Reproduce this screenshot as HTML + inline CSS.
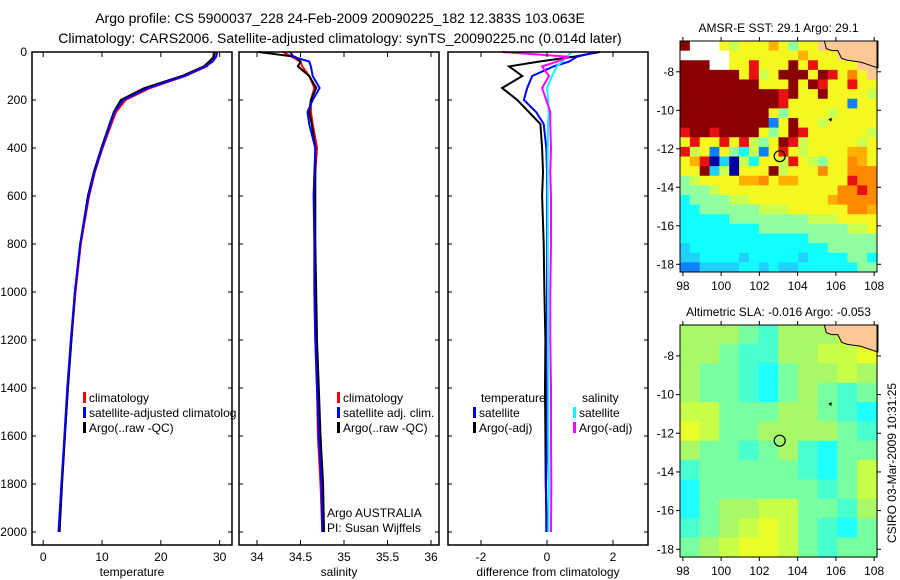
<!DOCTYPE html>
<html><head><meta charset="utf-8"><style>
body{margin:0;background:#fff;}
svg{display:block;font-family:"Liberation Sans",sans-serif;}
text{fill:#000;}
</style></head><body>
<svg id="c" width="900" height="580" viewBox="0 0 900 580">
<text x="340" y="23" font-size="14" text-anchor="middle">Argo profile: CS 5900037_228 24-Feb-2009 20090225_182 12.383S 103.063E</text>
<text x="340" y="43" font-size="14" text-anchor="middle">Climatology: CARS2006. Satellite-adjusted climatology: synTS_20090225.nc (0.014d later)</text>
<g id="g"></g>
</svg>
<script>
// ---- profile data (depth in m) ----
const depths      = [0,20,40,60,100,150,200,250,300,400,500,600,800,1000,1200,1400,1600,1800,2000];
const tempClim    = [29.0,28.9,28.6,27.8,24.2,18.2,14.0,12.4,11.6,10.1,8.8,7.8,6.4,5.5,4.8,4.2,3.7,3.2,2.7];
const tempSat     = [29.6,29.4,28.8,27.6,24.0,17.8,13.6,12.1,11.4,10.0,8.7,7.7,6.3,5.4,4.7,4.1,3.6,3.1,2.6];
const tempArgo    = [29.2,29.0,28.2,27.3,23.6,17.2,13.2,12.0,11.3,9.9,8.6,7.6,6.3,5.4,4.8,4.2,3.7,3.2,2.8];
const salClim     = [34.30,34.40,34.50,34.52,34.60,34.66,34.62,34.62,34.64,34.69,34.67,34.66,34.66,34.66,34.67,34.69,34.70,34.73,34.75];
const salSat      = [34.38,34.42,34.60,34.62,34.64,34.72,34.64,34.58,34.60,34.67,34.66,34.65,34.66,34.66,34.67,34.69,34.71,34.74,34.75];
const salArgo     = [34.02,34.44,34.50,34.47,34.60,34.68,34.62,34.60,34.63,34.67,34.67,34.67,34.67,34.68,34.69,34.71,34.73,34.76,34.77];
const dTempSat    = [1.50,0.90,0.67,0.20,-0.45,-0.60,-0.70,-0.33,-0.10,-0.02,0,0,0,0,0,0,0,-0.03,-0.02];
const dTempArgo   = [1.60,0.80,-0.25,-1.15,-0.75,-1.36,-0.90,-0.55,-0.20,-0.15,-0.12,-0.15,-0.10,-0.08,-0.05,-0.06,-0.05,-0.04,0.0];
const dSalSat     = [0.75,0.60,0.45,0.30,0.15,0.00,0.04,0.05,0.03,0.02,0.02,0.02,0.02,0.03,0.03,0.04,0.04,0.05,0.04];
const dSalArgo    = [-1.35,0.67,0.30,-0.15,0.06,-0.15,-0.02,0.10,0.10,0.12,0.10,0.12,0.12,0.10,0.10,0.12,0.12,0.13,0.12];
const depthTicks  = [0,200,400,600,800,1000,1200,1400,1600,1800,2000];
const tempTicks   = [0,10,20,30];
const salTicks    = [34,34.5,35,35.5,36];
const diffTicks   = [-2,0,2];
// ---- map data ----
const latTicks = [-8,-10,-12,-14,-16,-18];
const lonTicks = [98,100,102,104,106,108];
const argoLon = 103.063, argoLat = -12.383;
const sstGrid = [
"DWWWygyyyoyGyyLLLLLL","WWWWWyyyyyyyoyyyLLLL","DDDWWyyRyyyDyRyyyyLL","DDDDDDyRgyDDDyDRyOyL",
"DDDDDDDDyyyDyDRyyRyy","DDDDDDDDDDRDyyDyyyyg","DDDDDDDDDDRyyyyyyByy","DDDDDDDDDyGyyyygyyyy",
"DDDDDDDDDByDyygyyyyy","RDDRDDDDyGyDRyyyyyyg","yRyyRyRgGyDRgyyyyygy","RgyByGcgByRygyyyyooy",
"yoRNbNgcyygRygGyyOoy","yyDbgNyyyDgyyyOyyOOO","GgyyyyooOyooyyyyyROO","GGGgyyyyyyyyyyyyOORO",
"cGGGGggyyyyyyyyoOOOO","ccGGGGGGgggyyyyyyOOo","cccccGGGGGGGGgggyyyy","ccccccccGGGGGGGGGggy",
"cccccccccccccGGGGGGG","bccccccccccccccGGGGG","bbccccbcccccbccccGGc","BBbbbbccbcbbccccccGG"];
const slaGrid = [
"gggmtgggyy","ggmttggyyY","gmmtcmggyg","gmmtcmgmtm","yymmmggmtc","Yymmggggmt",
"gmmtmgtcmm","tmmmmmtcmy","cmmmmmmtmy","cmggyymmtg","tmgyYymtcm","mgyYYymtmm"];
const sstColors = {D:"#8b0000",W:"#ffffff",R:"#e81010",O:"#ff8a00",o:"#ffb000",Y:"#ffff00",y:"#f4f820",g:"#c8ff50",G:"#90ffa0",c:"#10ffff",b:"#20d0ff",B:"#1080ff",N:"#0000a0",L:"#ffc896"};
const slaColors = {Y:"#e8ff28",y:"#c8ff48",g:"#a8f868",m:"#78ffa0",t:"#48ffd0",c:"#20ffff"};

const NS="http://www.w3.org/2000/svg", G=document.getElementById('g');
function el(tag,attrs,parent){const e=document.createElementNS(NS,tag);for(const k in attrs)e.setAttribute(k,attrs[k]);(parent||G).appendChild(e);return e;}
function txt(x,y,s,size,anchor,parent){const t=el('text',{x:x,y:y,'font-size':size||12,'text-anchor':anchor||'start'},parent);t.textContent=s;return t;}

const Y0=52, YS=0.24; const yD=d=>Y0+d*YS;
const panels=[
 {name:'temperature',x0:32,x1:232,v0:-1.9,v1:32.1,ticks:tempTicks,series:[[tempClim,'#f00'],[tempArgo,'#000'],[tempSat,'#00f']]},
 {name:'salinity',x0:239,x1:439,v0:33.793,v1:36.092,ticks:salTicks,series:[[salClim,'#f00'],[salArgo,'#000'],[salSat,'#00f']]},
 {name:'difference from climatology',x0:448,x1:648,v0:-3.0,v1:3.06,ticks:diffTicks,series:[[dTempArgo,'#000'],[dTempSat,'#00f'],[dSalSat,'#0ff'],[dSalArgo,'#f0f']]}
];
panels.forEach((p,pi)=>{
  const g=el('g',{});
  
  
  const xv=v=>p.x0+(v-p.v0)/(p.v1-p.v0)*(p.x1-p.x0);
  p.series.forEach(([arr,col],si)=>{
    const pts=arr.map((v,i)=>xv(v).toFixed(1)+','+yD(depths[i]).toFixed(1)).join(' ');
    const l=el('polyline',{points:pts,fill:'none',stroke:col,'stroke-width':2},g);
    
    
  });
  el('rect',{x:p.x0,y:52,width:p.x1-p.x0,height:493,fill:'none',stroke:'#000','stroke-width':1.5},g);
  p.ticks.forEach(t=>{const x=xv(t);el('line',{x1:x,y1:545,x2:x,y2:540,stroke:'#000'},g);el('line',{x1:x,y1:52,x2:x,y2:57,stroke:'#000'},g);txt(x,561,String(t),12,'middle',g);});
  depthTicks.forEach(d=>{el('line',{x1:p.x0,y1:yD(d),x2:p.x0+4,y2:yD(d),stroke:'#000'},g);el('line',{x1:p.x1,y1:yD(d),x2:p.x1-4,y2:yD(d),stroke:'#000'},g);if(pi===0)txt(27,yD(d)+4,String(d),12,'end',g);});
  const at=txt((p.x0+p.x1)/2,576,p.name,12,'middle',g);
  
  
});
// legends
function leg(x,y,col,label,name){const g=el('g',{});el('rect',{x:x,y:y-10,width:3,height:11,fill:col},g);txt(x+6,y,label,12,'start',g);}
leg(83,402,'#f00','climatology','legend-climatology');
leg(83,417,'#00f','satellite-adjusted climatolog','legend-satellite-adjusted');
leg(83,432,'#000','Argo(..raw -QC)','legend-argo');
leg(337,402,'#f00','climatology','legend-sal-climatology');
leg(337,417,'#00f','satellite adj. clim.','legend-sal-satellite');
leg(337,432,'#000','Argo(..raw -QC)','legend-sal-argo');
txt(481,402,'temperature',12);txt(582,402,'salinity',12);
leg(473,417,'#00f','satellite','legend-temp-satellite');
leg(473,432,'#000','Argo(-adj)','legend-temp-argo');
leg(573,417,'#0ff','satellite','legend-sal-sat');
leg(573,432,'#f0f','Argo(-adj)','legend-sal-argo-adj');
txt(327,517,'Argo AUSTRALIA',12);txt(327,532,'PI: Susan Wijffels',12);

// maps
function map(o){
  const g=el('g',{});
  
  
  const lonX=l=>o.x0+(l-o.lon0)/(o.lon1-o.lon0)*(o.x1-o.x0);
  const latY=l=>o.y0+(o.lat0-l)/(o.lat0-o.lat1)*(o.y1-o.y0);
  const rows=o.grid.length, cols=o.grid[0].length;
  const cw=(o.x1-o.x0)/cols, ch=(o.y1-o.y0)/rows;
  o.grid.forEach((r,ri)=>{for(let ci=0;ci<cols;ci++){
    const c=el('rect',{x:(o.x0+ci*cw).toFixed(2),y:(o.y0+ri*ch).toFixed(2),width:(cw+0.4).toFixed(2),height:(ch+0.4).toFixed(2),fill:o.colors[r[ci]]},g);
    if(o.soft){c.setAttribute('stroke',o.colors[r[ci]]);c.setAttribute('stroke-opacity','0.5');}
    
    
  }});
  const land=[[105.4,-6.4],[105.5,-6.8],[105.8,-6.9],[106.1,-6.9],[106.3,-7.3],[106.6,-7.4],[107.3,-7.5],[108.2,-7.8],[108.2,-6.4]];
  el('polygon',{points:land.map(p=>lonX(p[0])+','+latY(p[1])).join(' '),fill:'#ffc896',stroke:'#000','stroke-width':1},g);
  el('polygon',{points:[[105.6,-10.45],[105.8,-10.4],[105.75,-10.6]].map(p=>lonX(p[0])+','+latY(p[1])).join(' '),fill:'#000'},g);
  const c=el('circle',{cx:lonX(argoLon),cy:latY(argoLat),r:5.5,fill:'none',stroke:'#000','stroke-width':1.2},g);
  
  
  el('rect',{x:o.x0,y:o.y0,width:o.x1-o.x0,height:o.y1-o.y0,fill:'none',stroke:'#000','stroke-width':1},g);
  latTicks.forEach(t=>{const y=latY(t);el('line',{x1:o.x0-4,y1:y,x2:o.x0,y2:y,stroke:'#000'},g);el('line',{x1:o.x1,y1:y,x2:o.x1+4,y2:y,stroke:'#000'},g);txt(o.x0-6,y+4,String(t),12,'end',g);});
  lonTicks.forEach(t=>{const x=lonX(t);el('line',{x1:x,y1:o.y1,x2:x,y2:o.y1+4,stroke:'#000'},g);el('line',{x1:x,y1:o.y0-4,x2:x,y2:o.y0,stroke:'#000'},g);txt(x,o.y1+18,String(t),12,'middle',g);});
  const t=txt((o.x0+o.x1)/2,o.y0-9,o.title,12,'middle',g);
  
  
}
map({name:'sst-map',x0:680,x1:877,y0:41,y1:272,lon0:97.85,lon1:108.15,lat0:-6.4,lat1:-18.4,grid:sstGrid,colors:sstColors,title:'AMSR-E SST: 29.1  Argo: 29.1',soft:false});
map({name:'sla-map',x0:680,x1:877,y0:325,y1:557,lon0:97.85,lon1:108.15,lat0:-6.4,lat1:-18.4,grid:slaGrid,colors:slaColors,title:'Altimetric SLA: -0.016  Argo: -0.053',soft:true});
const st=txt(0,0,'CSIRO 03-Mar-2009 10:31:25',12,'middle');
st.setAttribute('transform','translate(896,463) rotate(-90)');


</script>
</body></html>
